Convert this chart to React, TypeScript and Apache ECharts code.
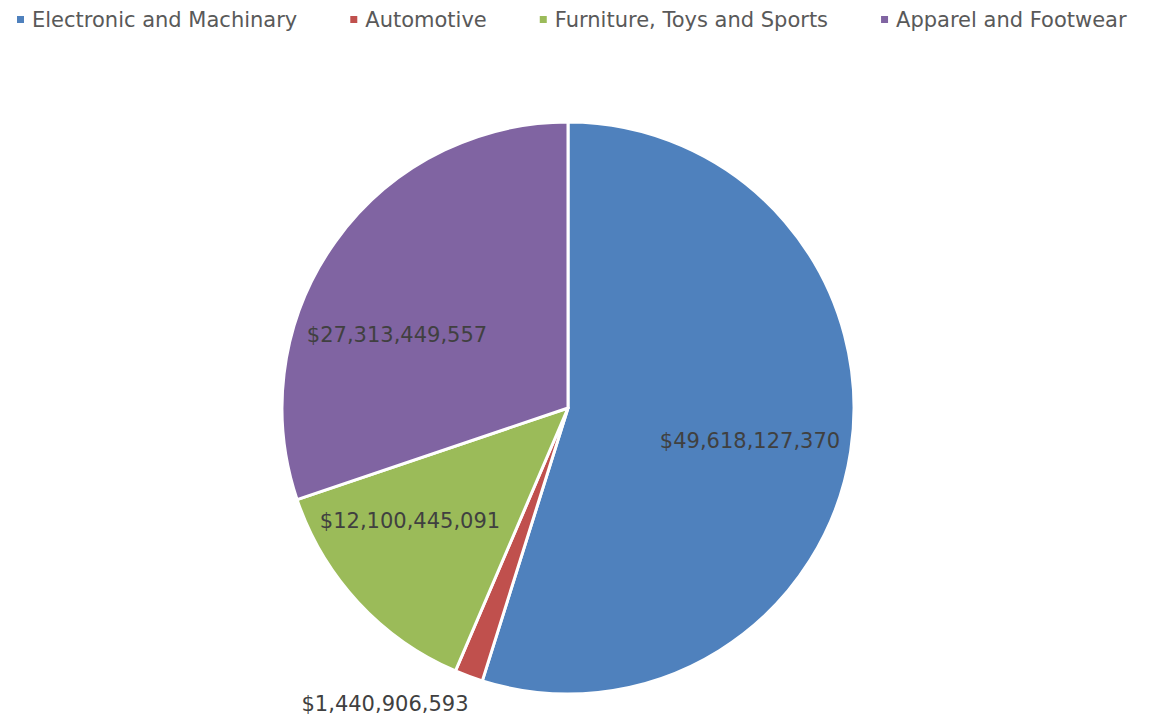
import React, { useEffect, useRef } from "react";
import * as echarts from "echarts";

const categories = [
  "Electronic and Machinary",
  "Automotive",
  "Furniture, Toys and Sports",
  "Apparel and Footwear",
];
const values = [49618127370, 1440906593, 12100445091, 27313449557];
const colors = ["#4F81BD", "#C0504D", "#9BBB59", "#8064A2"];

const CX = 568;
const CY = 408;
const R = 286;
const FONT = "DejaVu Sans";

function fmt(v: number) {
  return "$" + v.toLocaleString("en-US");
}

// label anchor offsets from the pie centre, as placed in the reference (best fit)
const labelOffsets: [number, number][] = [
  [182, 33],
  [-183, 296],
  [-158, 113],
  [-171, -73],
];

export default function App() {
  const ref = useRef<HTMLDivElement>(null);
  useEffect(() => {
    const chart = echarts.init(ref.current!, null, { renderer: "svg" });
    chart.setOption({
      animation: false,
      color: colors,
      legend: {
        top: 4,
        left: 10,
        icon: "rect",
        itemWidth: 9,
        itemHeight: 9,
        itemGap: 51,
        textStyle: {
          fontFamily: FONT,
          fontSize: 21,
          color: "#595959",
          padding: [0, 0, 0, 2],
        },
        data: categories,
      },
      series: [
        {
          type: "pie",
          center: [CX, CY],
          radius: R,
          startAngle: 90,
          clockwise: true,
          itemStyle: { borderColor: "#fff", borderWidth: 3 },
          label: {
            show: true,
            position: "inside",
            formatter: (p: any) => fmt(p.value),
            fontFamily: FONT,
            fontSize: 21,
            color: "#404040",
          },
          labelLine: { show: false },
          labelLayout: (p: any) => {
            const o = labelOffsets[p.dataIndex];
            return {
              x: CX + o[0],
              y: CY + o[1],
              align: "center",
              verticalAlign: "middle",
            };
          },
          data: categories.map((c, i) => ({ name: c, value: values[i] })),
        },
      ],
    });
    return () => chart.dispose();
  }, []);
  return (
    <div
      ref={ref}
      style={{ position: "absolute", left: 0, top: 0, width: 1160, height: 719 }}
    />
  );
}
